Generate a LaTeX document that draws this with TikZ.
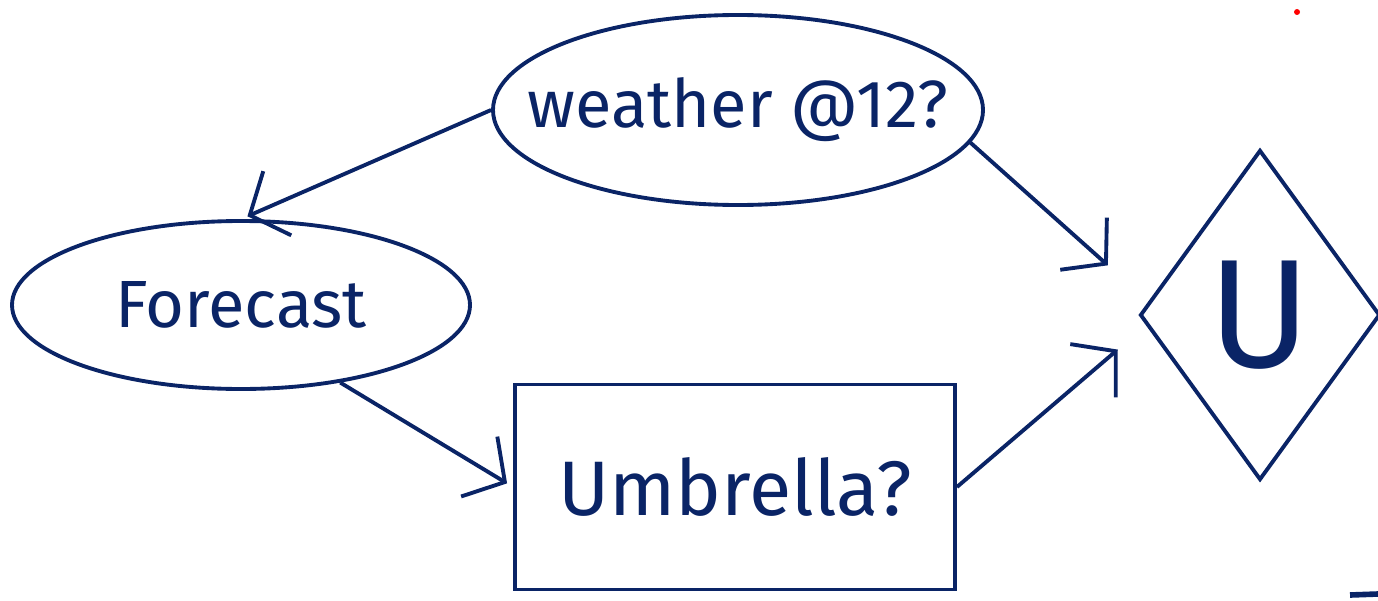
\documentclass[tikz,border=0pt]{standalone}
\usepackage{fontspec}
\setmainfont{Fira Sans}
\usetikzlibrary{shapes.geometric,arrows.meta}
\definecolor{pen}{HTML}{0A2466}
\definecolor{stray}{HTML}{FF0000}

\begin{document}
\begin{tikzpicture}[x=1cm, y=1cm, line width=1.1pt,
    chance/.style={ellipse, draw=pen, text=pen, inner sep=0pt,
                   inner xsep=-0.8cm, font=\fontsize{19}{23}\selectfont},
    decision/.style={rectangle, draw=pen, text=pen, inner sep=0pt,
                     font=\fontsize{22}{26}\selectfont},
    utility/.style={diamond, draw=pen, text=pen, inner sep=0pt,
                    font=\fontsize{44}{50}\selectfont},
    link/.style={draw=pen, -{Straight Barb[length=3mm,width=7mm]},
                 shorten >=2pt}]
  % pin the frame to the sheet
  \useasboundingbox (0,0) rectangle (13.78,6.00);

  % ---- the four nodes ----
  \node[chance, minimum width=4.9cm, minimum height=1.9cm]
    (weather) at (7.38,4.90) {weather @12?};
  \node[chance, minimum width=4.58cm, minimum height=1.68cm]
    (forecast) at (2.41,2.95) {Forecast};
  \node[decision, minimum width=4.4cm, minimum height=2.05cm]
    (umbrella) at (7.35,1.13) {Umbrella?};
  \node[utility, minimum width=2.4cm, minimum height=3.3cm]
    (util) at (12.60,2.85) {U};

  % ---- the links ----
  \draw[link] (weather.west) -- (forecast.north);
  \draw[link] (forecast.-38) -- (umbrella.west);
  \draw[link] (weather.-8) -- ([xshift=-0.25cm,yshift=0.45cm]util.west);
  \draw[link] (umbrella.east) -- ([xshift=-0.15cm,yshift=-0.3cm]util.west);

  % stray marks on the sheet
  \fill[stray] (12.97,5.88) circle (0.03);
  \draw[pen, line width=1.6pt] (13.50,0.05) -- (13.78,0.06);
\end{tikzpicture}
\end{document}
